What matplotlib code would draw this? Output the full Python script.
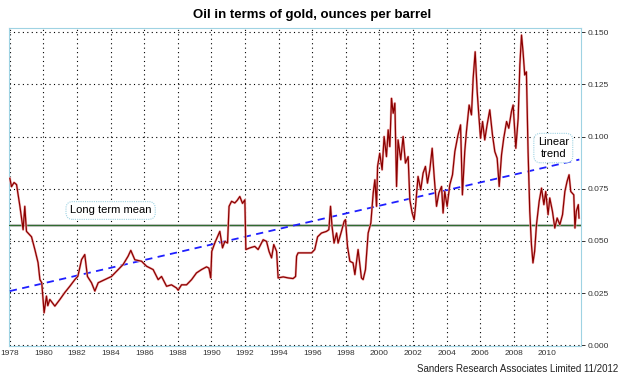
import matplotlib
matplotlib.use("Agg")
import matplotlib.pyplot as plt
from matplotlib.ticker import FormatStrFormatter

# Oil priced in gold, ounces per barrel
years = [
    1978.00, 1978.10, 1978.25, 1978.40, 1978.60, 1978.79, 1978.89, 1978.99,
    1979.29, 1979.49, 1979.68, 1979.79, 1979.90, 1980.04, 1980.18, 1980.26,
    1980.38, 1980.68, 1980.98, 1981.27, 1981.57, 1981.87, 1982.05, 1982.27,
    1982.46, 1982.62, 1982.86, 1983.06, 1983.26, 1983.65, 1984.05, 1984.45,
    1984.74, 1985.04, 1985.20, 1985.44, 1985.84, 1986.14, 1986.53, 1986.83,
    1987.03, 1987.33, 1987.62, 1987.92, 1988.02, 1988.22, 1988.52, 1988.82,
    1989.11, 1989.41, 1989.71, 1989.85, 1989.96, 1990.02, 1990.20, 1990.50,
    1990.66, 1990.80, 1990.96, 1991.05, 1991.20, 1991.39, 1991.53, 1991.69,
    1991.85, 1991.99, 1992.05, 1992.29, 1992.58, 1992.78, 1993.08, 1993.28,
    1993.43, 1993.58, 1993.71, 1993.88, 1993.97, 1994.27, 1994.57, 1994.86,
    1995.01, 1995.07, 1995.16, 1995.56, 1995.96, 1996.15, 1996.32, 1996.55,
    1996.85, 1996.99, 1997.09, 1997.18, 1997.30, 1997.45, 1997.54, 1997.74,
    1997.90, 1997.98, 1998.10, 1998.24, 1998.43, 1998.54, 1998.73, 1998.93,
    1999.03, 1999.17, 1999.33, 1999.49, 1999.63, 1999.73, 1999.83, 1999.89,
    2000.02, 2000.16, 2000.28, 2000.42, 2000.52, 2000.62, 2000.72, 2000.82,
    2000.92, 2001.02, 2001.11, 2001.27, 2001.41, 2001.55, 2001.71, 2001.81,
    2001.95, 2002.07, 2002.15, 2002.30, 2002.46, 2002.60, 2002.74, 2002.86,
    2003.00, 2003.14, 2003.26, 2003.40, 2003.54, 2003.70, 2003.79, 2003.89,
    2004.03, 2004.19, 2004.35, 2004.49, 2004.68, 2004.83, 2004.94, 2005.08,
    2005.18, 2005.34, 2005.48, 2005.58, 2005.70, 2005.82, 2005.93, 2006.02,
    2006.14, 2006.27, 2006.41, 2006.57, 2006.73, 2006.87, 2007.01, 2007.13,
    2007.27, 2007.40, 2007.57, 2007.70, 2007.86, 2007.96, 2008.12, 2008.26,
    2008.36, 2008.46, 2008.55, 2008.65, 2008.75, 2008.85, 2008.95, 2009.05,
    2009.14, 2009.24, 2009.35, 2009.51, 2009.65, 2009.79, 2009.90, 2010.04,
    2010.14, 2010.30, 2010.44, 2010.58, 2010.74, 2010.90, 2011.04, 2011.17,
    2011.29, 2011.39, 2011.57, 2011.64, 2011.72, 2011.84, 2011.88,
]
oil_gold = [
    0.080, 0.076, 0.078, 0.077, 0.0666, 0.0554, 0.0666, 0.0546,
    0.052, 0.0459, 0.0396, 0.0315, 0.030, 0.0156, 0.0236, 0.019,
    0.022, 0.0188, 0.022, 0.0253, 0.0283, 0.0315, 0.0331, 0.0411,
    0.0435, 0.033, 0.030, 0.026, 0.030, 0.0315, 0.033, 0.0363,
    0.0387, 0.0427, 0.0455, 0.041, 0.0403, 0.0379, 0.0363, 0.0315,
    0.033, 0.0283, 0.029, 0.0275, 0.0264, 0.029, 0.029, 0.0315,
    0.0347, 0.0363, 0.0376, 0.037, 0.0323, 0.045, 0.049, 0.0546,
    0.0467, 0.0498, 0.049, 0.0666, 0.069, 0.0682, 0.0694, 0.0713,
    0.068, 0.0697, 0.0459, 0.0467, 0.0474, 0.0459, 0.0506, 0.0498,
    0.045, 0.0419, 0.0483, 0.045, 0.0323, 0.0328, 0.0323, 0.032,
    0.033, 0.0427, 0.0443, 0.0443, 0.0443, 0.0459, 0.052, 0.0538,
    0.0546, 0.0554, 0.0666, 0.057, 0.049, 0.0538, 0.049, 0.0546,
    0.0594, 0.0602, 0.0474, 0.0403, 0.0395, 0.0339, 0.0459, 0.0323,
    0.0315, 0.0363, 0.0538, 0.0586, 0.073, 0.0793, 0.0666, 0.0857,
    0.092, 0.0841, 0.100, 0.0904, 0.1032, 0.0952, 0.1183, 0.1112,
    0.116, 0.0761, 0.0984, 0.0889, 0.100, 0.0873, 0.0904, 0.0697,
    0.0634, 0.0602, 0.0666, 0.0809, 0.0745, 0.0825, 0.0857, 0.0777,
    0.0841, 0.0944, 0.0809, 0.0666, 0.073, 0.0761, 0.0634, 0.0737,
    0.0666, 0.0769, 0.0817, 0.0928, 0.1008, 0.1056, 0.0721, 0.0928,
    0.1024, 0.1151, 0.1104, 0.1279, 0.1406, 0.1215, 0.1088, 0.0992,
    0.1072, 0.0984, 0.1056, 0.1128, 0.1008, 0.0928, 0.0896, 0.0761,
    0.0913, 0.0992, 0.1072, 0.104, 0.112, 0.1151, 0.0944, 0.1088,
    0.1343, 0.1486, 0.1406, 0.1295, 0.131, 0.0928, 0.0642, 0.0483,
    0.0395, 0.045, 0.0578, 0.069, 0.0753, 0.0674, 0.0737, 0.0626,
    0.0706, 0.0642, 0.0562, 0.061, 0.0578, 0.0626, 0.0737, 0.0785,
    0.0817, 0.0737, 0.0721, 0.0562, 0.0642, 0.0674, 0.061,
]

long_term_mean = 0.0578
trend_years = [1978.0, 2011.9]
trend_values = [0.026, 0.089]

year_ticks = list(range(1978, 2012, 2))
value_ticks = [0.000, 0.025, 0.050, 0.075, 0.100, 0.125, 0.150]

plt.rcParams["font.family"] = ["Liberation Sans", "DejaVu Sans"]

fig = plt.figure(figsize=(6.24, 3.82), dpi=100)
ax = fig.add_axes([9 / 624, 36 / 382, 572 / 624, 318 / 382])

ax.axhline(long_term_mean, color="#c4c4c4", linewidth=2.2, zorder=2)
ax.axhline(long_term_mean, color="#2f6b2f", linewidth=0.8, zorder=3)
ax.plot(trend_years, trend_values, color="#1f1fff", linewidth=1.3,
        dashes=(4, 3), zorder=4)
ax.plot(years, oil_gold, color="#f2b0b0", linewidth=1.7, zorder=5)
ax.plot(years, oil_gold, color="#8b0000", linewidth=0.9, zorder=6)

ax.set_xlim(1977.95, 2012.0)
ax.set_ylim(-0.0003, 0.152)

ax.set_xticks(year_ticks)
ax.set_yticks(value_ticks)
ax.yaxis.set_major_formatter(FormatStrFormatter("%.3f"))
ax.yaxis.tick_right()
ax.tick_params(axis="x", length=0, labelsize=6, colors="#333333", pad=3)
ax.tick_params(axis="y", length=3, width=0.7, labelsize=6, colors="#333333", pad=2)

ax.grid(True, color="black", linestyle=(0, (1, 3)), linewidth=0.8)
for side in ax.spines.values():
    side.set_color("#9fd3e3")
    side.set_linestyle((0, (1, 1)))
    side.set_linewidth(0.8)

box = dict(boxstyle="round,pad=0.35,rounding_size=0.6", facecolor="white",
           edgecolor="#9fd3e3", linestyle=(0, (1, 1)), linewidth=0.8)
ax.text(1984.0, 0.0646, "Long term mean", fontsize=8, ha="center", va="center",
        bbox=box, zorder=8)
ax.text(2010.35, 0.0945, "Linear\ntrend", fontsize=8, ha="center", va="center",
        bbox=box, zorder=8, linespacing=1.2)

fig.text(0.5, 0.962, "Oil in terms of gold, ounces per barrel", fontsize=9.5,
         fontweight="bold", ha="center", va="center")
fig.text(0.99, 0.034, "Sanders Research Associates Limited 11/2012", fontsize=7,
         ha="right", va="center", color="#222222")

fig.savefig("out.png", dpi=100)
